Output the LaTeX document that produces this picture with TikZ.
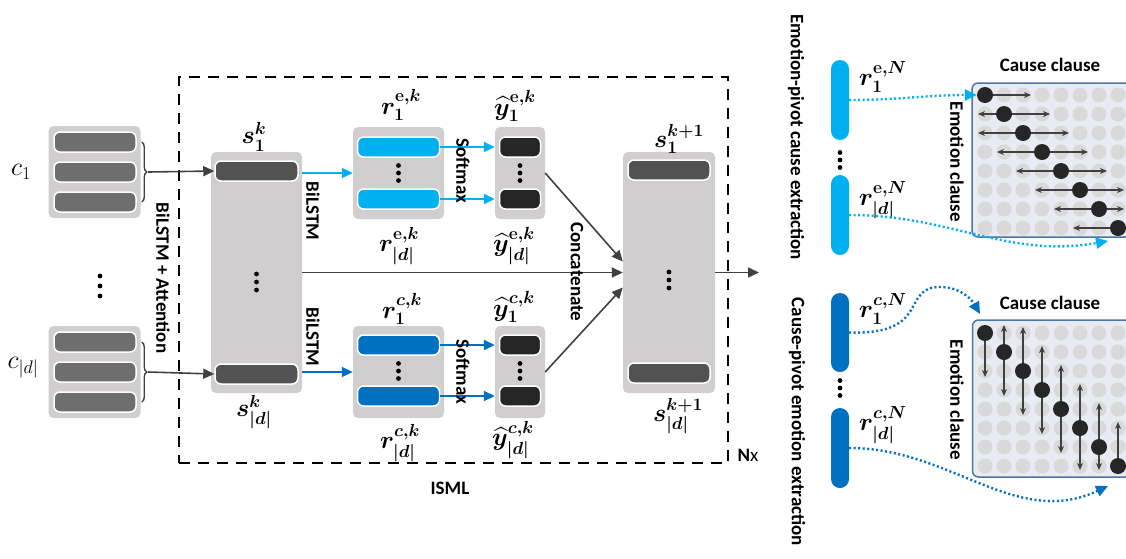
\documentclass[tikz,border=0pt]{standalone}
\usepackage{fix-cm}
\usepackage{fontspec}
\setsansfont{Carlito}
\usepackage{amsmath}
\usetikzlibrary{arrows.meta,decorations.pathreplacing}
\definecolor{boxgray}{HTML}{D0CECE}
\definecolor{clausegray}{HTML}{6E6E6E}
\definecolor{stategray}{HTML}{525252}
\definecolor{probblack}{HTML}{262626}
\definecolor{arrgray}{HTML}{404040}
\definecolor{emocyan}{HTML}{00B0F0}
\definecolor{caublue}{HTML}{0070C0}
\definecolor{gridfill}{HTML}{E8EBF2}
\definecolor{gridedge}{HTML}{4A76A8}
\definecolor{cellgray}{HTML}{D9D9D9}

\tikzset{
  grp/.style={fill=boxgray, rounded corners=5pt, inner sep=0pt},
  bar/.style={draw=white, line width=1.5pt, rounded corners=6pt, inner sep=0pt, minimum height=20pt},
  vbar/.style={rounded corners=9pt, inner sep=0pt, minimum width=18pt},
  lbl/.style={font=\fontsize{25}{27}\selectfont\boldmath, inner sep=0pt},
  clbl/.style={font=\fontsize{26}{28}\selectfont, inner sep=0pt},
  rot/.style={rotate=-90, font=\sffamily\bfseries\fontsize{19}{21}\selectfont, inner sep=0pt},
  txt/.style={font=\sffamily\bfseries\fontsize{19}{21}\selectfont, inner sep=0pt},
  arr/.style={draw=arrgray, line width=1.6pt, -{Triangle[length=11pt,width=10pt]}},
  cyanarr/.style={draw=emocyan, line width=1.6pt, -{Triangle[length=11pt,width=10pt]}},
  bluearr/.style={draw=caublue, line width=1.6pt, -{Triangle[length=11pt,width=10pt]}},
  dotlink/.style={line width=2.4pt, dash pattern=on 2pt off 2.5pt, -{Triangle[length=12pt,width=11pt]}},
  gridbox/.style={draw=gridedge, fill=gridfill, line width=1.5pt, rounded corners=6pt, minimum width=159pt, inner sep=0pt},
  gdot/.style={circle, fill=probblack, minimum size=16pt, inner sep=0pt},
  garr/.style={draw=arrgray, line width=1.3pt, -{Stealth[length=7pt,width=6pt]}},
  vdots/.pic={\foreach \k in {-1,0,1} \fill (0,\k*#1) circle (2.4);}
}

\begin{document}
\begin{tikzpicture}[x=1pt,y=1pt]
\useasboundingbox (0,0) rectangle (1126,-558);

% ISML frame
\node[draw, dashed, line width=1.8pt, dash pattern=on 11pt off 8pt, minimum width=549pt, minimum height=386pt, inner sep=0pt] (isml) at (453.5,-270) {};
\node[txt] (ismllab) at (450,-488) {ISML};
\node[txt] (nx) at (748,-455) {N{\mdseries x}};

% clauses
\node[grp, minimum width=92pt, minimum height=92pt] (c1grp) at (94.5,-172) {};
\node[grp, minimum width=92pt, minimum height=92pt] (cdgrp) at (94.5,-372) {};
\foreach \n/\yy in {a/142,b/172,c/202}
  \node[bar, fill=clausegray, minimum width=82pt] (c1\n) at (95,-\yy) {};
\foreach \n/\yy in {a/342,b/372,c/402}
  \node[bar, fill=clausegray, minimum width=82pt] (cd\n) at (95,-\yy) {};
\node[clbl] (c1lab) at (21,-172) {$c_1$};
\node[clbl] (cdlab) at (23,-368) {$c_{|d|}$};
\pic at (100,-286) {vdots=10};
\draw[arrgray, line width=1.4pt, decorate, decoration={brace, amplitude=5pt}] ([xshift=5pt]c1a.east) -- ([xshift=5pt]c1c.east);
\draw[arrgray, line width=1.4pt, decorate, decoration={brace, amplitude=5pt}] ([xshift=5pt]cda.east) -- ([xshift=5pt]cdc.east);
\coordinate (br1) at (148,-172);
\coordinate (brd) at (148,-372);
\node[rot] (attn) at (163,-278) {BiLSTM + Attention};

% clause states s^k
\node[grp, minimum width=91pt, minimum height=241pt] (sk) at (256.5,-272.5) {};
\node[bar, fill=stategray, minimum width=83pt] (sk1) at (256.5,-171) {};
\node[bar, fill=stategray, minimum width=83pt] (skd) at (256.5,-374) {};
\pic at (256.5,-282) {vdots=8};
\node[lbl] (sk1lab) at (254,-137) {$s_1^k$};
\node[lbl] (skdlab) at (254,-412) {$s_{|d|}^k$};
\draw[arr] (br1) -- (sk1.west);
\draw[arr] (brd) -- (skd.west);

% emotion branch
\node[grp, minimum width=91pt, minimum height=92pt] (rebox) at (398.5,-173) {};
\node[bar, fill=emocyan, minimum width=82pt] (re1) at (398.5,-147) {};
\node[bar, fill=emocyan, minimum width=82pt] (red) at (398.5,-199) {};
\pic at (398.5,-173) {vdots=7.5};
\node[grp, minimum width=50pt, minimum height=92pt] (yebox) at (520,-173) {};
\node[bar, fill=probblack, minimum width=41pt] (ye1) at (520,-147) {};
\node[bar, fill=probblack, minimum width=41pt] (yed) at (520,-199) {};
\pic at (520,-173) {vdots=7.5};
\node[lbl] (re1lab) at (401,-105) {$r_1^{\mathbf{e},k}$};
\node[lbl] (redlab) at (399,-246) {$r_{|d|}^{\mathbf{e},k}$};
\node[lbl] (ye1lab) at (515,-106) {$\widehat{y}_1^{\mathbf{e},k}$};
\node[lbl] (yedlab) at (514,-246) {$\widehat{y}_{|d|}^{\mathbf{e},k}$};
\draw[cyanarr] (sk.east |- rebox.west) -- (rebox.west);
\draw[cyanarr] (re1.east) -- (yebox.west |- re1.east);
\draw[cyanarr] (red.east) -- (yebox.west |- red.east);
\node[rot] (bilstme) at (313,-211) {BiLSTM};
\node[rot] (softe) at (463,-171) {Softmax};

% cause branch
\node[grp, minimum width=91pt, minimum height=92pt] (rcbox) at (398.5,-372) {};
\node[bar, fill=caublue, minimum width=82pt] (rc1) at (398.5,-345) {};
\node[bar, fill=caublue, minimum width=82pt] (rcd) at (398.5,-396) {};
\pic at (398.5,-371) {vdots=7.5};
\node[grp, minimum width=50pt, minimum height=92pt] (ycbox) at (520,-372) {};
\node[bar, fill=probblack, minimum width=41pt] (yc1) at (520,-345) {};
\node[bar, fill=probblack, minimum width=41pt] (ycd) at (520,-396) {};
\pic at (520,-371) {vdots=7.5};
\node[lbl] (rc1lab) at (402,-309) {$r_1^{c,k}$};
\node[lbl] (rcdlab) at (400,-443) {$r_{|d|}^{c,k}$};
\node[lbl] (yc1lab) at (514,-307) {$\widehat{y}_1^{c,k}$};
\node[lbl] (ycdlab) at (513,-440) {$\widehat{y}_{|d|}^{c,k}$};
\draw[bluearr] (sk.east |- rcbox.west) -- (rcbox.west);
\draw[bluearr] (rc1.east) -- (ycbox.west |- rc1.east);
\draw[bluearr] (rcd.east) -- (ycbox.west |- rcd.east);
\node[rot] (bilstmc) at (313,-337) {BiLSTM};
\node[rot] (softc) at (463,-372) {Softmax};

% next layer s^{k+1}
\node[grp, minimum width=92pt, minimum height=241pt] (skn) at (669,-272.5) {};
\node[bar, fill=stategray, minimum width=82pt] (skn1) at (669,-170) {};
\node[bar, fill=stategray, minimum width=82pt] (sknd) at (669,-373) {};
\pic at (669,-280) {vdots=8};
\node[lbl] (skn1lab) at (679,-139) {$s_1^{k+1}$};
\node[lbl] (skndlab) at (678,-416) {$s_{|d|}^{k+1}$};
\draw[arr] (yebox.east) -- ([yshift=11pt]skn.west);
\draw[arr] (sk.east) -- (skn.west);
\draw[arr] (ycbox.east) -- ([yshift=-15pt]skn.west);
\node[rot] (concat) at (577,-272) {Concatenate};
\coordinate (outp) at (759,-272.5);
\draw[arr] (skn.east) -- (outp);

% emotion-pivot cause extraction
\node[rot] (epce) at (796,-137) {Emotion-pivot cause extraction};
\node[vbar, fill=emocyan, minimum height=80pt] (reN1) at (840,-100) {};
\node[vbar, fill=emocyan, minimum height=80pt] (reNd) at (840,-215) {};
\pic at (840,-160) {vdots=7.5};
\node[lbl] (reN1lab) at (883,-77) {$r_1^{\mathbf{e},N}$};
\node[lbl] (reNdlab) at (883,-200) {$r_{|d|}^{\mathbf{e},N}$};
\node[txt] (causee) at (1050,-65) {Cause clause};
\node[rot] (emoe) at (957,-162) {Emotion clause};
\node[gridbox, minimum height=154pt] (gride) at (1051.5,-160) {};
\foreach \i in {0,...,7}
  \foreach \j in {0,...,7}
    \fill[cellgray] (985+19*\j,-95-19*\i) circle (7.5);
\foreach \i in {0,...,7}{
  \pgfmathsetmacro{\cx}{985+19*\i}
  \pgfmathsetmacro{\cy}{-95-19*\i}
  \pgfmathsetmacro{\lx}{max(978,\cx-45)}
  \pgfmathsetmacro{\rx}{min(1124,\cx+46)}
  \ifnum\i>0 \draw[garr] (\cx,\cy) -- (\lx,\cy); \fi
  \ifnum\i<7 \draw[garr] (\cx,\cy) -- (\rx,\cy); \fi
  \node[gdot] (de\i) at (\cx,\cy) {};
}
\coordinate (geend) at (1108,-241);
\draw[dotlink, emocyan] (reN1.east) to[out=0,in=180] (de0.west);
\draw[dotlink, emocyan] (reNd.east) to[out=0,in=190] (geend);

% cause-pivot emotion extraction
\node[rot] (cpee) at (797,-422) {Cause-pivot emotion extraction};
\node[vbar, fill=caublue, minimum height=79pt] (rcN1) at (840,-332.5) {};
\node[vbar, fill=caublue, minimum height=80pt] (rcNd) at (840,-448) {};
\pic at (840,-388) {vdots=7.5};
\node[lbl] (rcN1lab) at (883,-309) {$r_1^{c,N}$};
\node[lbl] (rcNdlab) at (883,-425) {$r_{|d|}^{c,N}$};
\node[txt] (causec) at (1050,-303) {Cause clause};
\node[rot] (emoc) at (957,-400) {Emotion clause};
\node[gridbox, minimum height=157pt] (gridc) at (1052,-398.5) {};
\foreach \i in {0,...,7}
  \foreach \j in {0,...,7}
    \fill[cellgray] (985+19*\j,-333-19*\i) circle (7.5);
\foreach \j in {0,...,7}{
  \pgfmathsetmacro{\cx}{985+19*\j}
  \pgfmathsetmacro{\cy}{-333-19*\j}
  \pgfmathsetmacro{\uy}{min(-325,\cy+44)}
  \pgfmathsetmacro{\dy}{max(-470,\cy-44)}
  \ifnum\j>0 \draw[garr] (\cx,\cy) -- (\cx,\uy); \fi
  \ifnum\j<7 \draw[garr] (\cx,\cy) -- (\cx,\dy); \fi
  \node[gdot] (dc\j) at (\cx,\cy) {};
}
\coordinate (gcpeak) at (940,-287);
\coordinate (gcin) at (980,-314);
\coordinate (gcend) at (1108,-486);
\draw[dotlink, caublue] (rcN1.east) .. controls (932,-335) and (900,-287) .. (gcpeak) to[out=0,in=120] (gcin);
\draw[dotlink, caublue] (rcNd.east) to[out=0,in=205] (gcend);
\end{tikzpicture}
\end{document}
